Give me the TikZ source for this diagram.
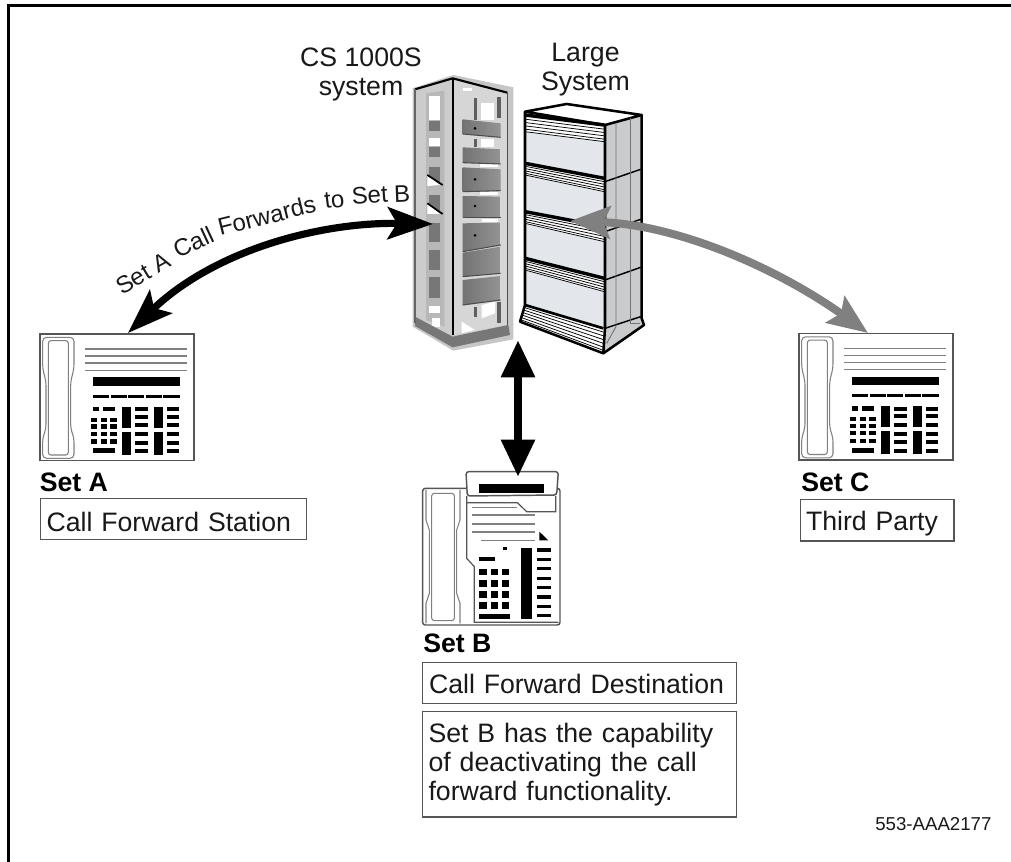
\documentclass[tikz,border=0pt]{standalone}
\usepackage{fontspec}
\setmainfont{Liberation Sans}
\usetikzlibrary{arrows.meta}
\definecolor{edgegray}{HTML}{555555}
\definecolor{phonegray}{HTML}{808080}
\definecolor{arrowgray}{HTML}{808080}
\definecolor{rackhalo}{HTML}{C6C6C6}
\definecolor{rackside}{HTML}{CCCCCC}
\definecolor{rackface}{HTML}{D6D6D6}
\definecolor{rackdark}{HTML}{777777}
\definecolor{panelface}{HTML}{E3E6EA}
\definecolor{panelside}{HTML}{C9CBCD}
\newcommand{\bodyfont}{\fontsize{20}{21.75}\selectfont}
\newcommand{\arcfont}{\fontsize{18}{20}\selectfont}
\newcommand{\fillrects}[1]{\foreach \xa/\ya/\xb/\yb in {#1} {\fill[black] (\xa,\ya) rectangle (\xb,\yb);}}
\newcommand{\setphone}[3]{%
\begin{scope}[shift={#2},x=.25pt,y=-.25pt]
 \node[phoneframe,minimum width=115.5pt,minimum height=95pt,anchor=north west] (#1) at (58,40) {};
 \draw[handset,rounded corners=3pt] (68,52)--(162,52)--(162,145)--(152,185)--(152,325)--(162,355)--(162,415)--(68,415)--(68,355)--(78,325)--(78,185)--(68,145)--cycle;
 \draw[handset,rounded corners=2pt] (85,62) rectangle (145,405);
 \foreach \yy in {87,108,129,151} {\draw[handset] (196,\yy)--(502,\yy);}
 \fillrects{218/172/480/197,218/224/268/234,272/224/320/234,325/224/372/234,377/224/425/234,430/224/480/234,220/260/236/274,250/260/286/274,306/260/332/324,306/336/332/404,402/260/428/324,402/336/428/404,218/385/285/400}
 \foreach \yy in {262,285,310,337,362,388} {\fill[black] (344,\yy) rectangle (384,\yy+12); \fill[black] (440,\yy) rectangle (478,\yy+12);}
 \foreach \yy in {293,313,335,358} {\fill[black] (212,\yy) rectangle (232,\yy+13); \fill[black] (243,\yy) rectangle (260,\yy+13); \fill[black] (270,\yy) rectangle (290,\yy+13);}
\end{scope}}
\tikzset{
 phoneframe/.style={draw=edgegray,line width=1.1pt,fill=white,inner sep=0pt},
 handset/.style={draw=phonegray,line width=.8pt},
 txt/.style={font=\bodyfont,inner sep=0pt,text=black!90},
 arcword/.style={font=\arcfont,inner sep=0pt,text=black!90,anchor=base west},
 boldtxt/.style={font=\bodyfont\bfseries,inner sep=0pt,text=black},
 labelbox/.style={draw=edgegray,line width=1.1pt,fill=white,font=\bodyfont,text=black!90,align=left,inner xsep=0pt,inner ysep=0pt,anchor=north west},
 cabline/.style={draw=black,line width=1.9pt,line join=round},
 stripe/.style={draw=black,line width=.55pt},
}
\begin{document}
\begin{tikzpicture}[x=.75pt,y=-.75pt]
\useasboundingbox (0,0) rectangle (1011,862);
\fill[white] (0,0) rectangle (1011,862);
\coordinate (frameTR) at (1011,5.5);
\coordinate (frameTL) at (8.5,5.5);
\coordinate (frameBL) at (8.5,862);
\draw[black,line width=2.4pt] (frameBL)--(frameTL)--(frameTR);

% ---------- CS 1000S rack
\begin{scope}[shift={(390,60)},x=.25pt,y=-.25pt]
 \fill[rackhalo] (68,85)--(190,45)--(370,82)--(370,838)--(190,872)--(68,800)--cycle;
 \fill[rackside] (78,90)--(188,58)--(188,825)--(78,790)--cycle;
 \fill[rackface] (190,58)--(352,100)--(352,795)--(190,825)--cycle;
 \fill[black!28] (108,100)--(163,92)--(163,800)--(108,780)--cycle;
 \foreach \xa/\ya/\xb/\yb/\cc in {118/108/150/180/white,116/182/150/212/rackdark,116/235/150/258/white,116/262/150/292/rackdark,116/320/150/372/rackdark,116/405/150/460/rackdark,116/490/150/545/rackdark,116/570/150/630/rackdark,116/652/150/715/rackdark,118/738/150/760/white,125/775/150/800/white}
  {\fill[\cc] (\xa,\ya) rectangle (\xb,\yb);}
 \fill[white] (112,345)--(150,375)--(112,378)--cycle;
 \fill[white] (112,430)--(150,462)--(112,462)--cycle;
 \draw[black,line width=1.3pt] (112,345)--(158,375);
 \draw[black,line width=1.3pt] (112,430)--(158,462);
 % right face windows and posts
 \fill[white] (272,130) rectangle (312,180);
 \fill[white] (272,238) rectangle (312,262);
 \fill[white] (270,312) rectangle (325,322);
 \fill[white] (270,396) rectangle (325,406);
 \fill[white] (275,476) rectangle (325,486);
 \fill[white] (275,735)--(315,725)--(315,760)--(275,775)--cycle;
 \fill[white] (215,785)--(255,810)--(215,820)--cycle;
 \fill[white] (218,85) rectangle (245,92);
 \fill[rackdark!80!black] (252,115) rectangle (262,180);
 \fill[rackdark!80!black] (320,110) rectangle (332,175);
 \fill[rackdark!80!black] (252,238) rectangle (262,262);
 \fill[rackdark!80!black] (252,740) rectangle (262,770);
 \fill[rackdark!80!black] (322,725) rectangle (332,790);
 \foreach \ptsa/\ptsb/\ptsc/\ptsd in {178/190/232/222,262/268/312/308,322/328/392/395,408/410/472/472,490/488/555/575,578/560/640/650,660/648/720/735}
  {\shade[left color=black!55,right color=black!42] (218,\ptsa)--(332,\ptsb)--(332,\ptsc)--(218,\ptsd)--cycle;
   \draw[black!70,line width=.8pt] (218,\ptsd)--(332,\ptsc);}
 \foreach \dy in {205,358,438,526} {\fill[black] (255,\dy) circle (1.1pt);}
 % base and frame
 \fill[rackdark] (75,770)--(188,830)--(355,795)--(360,825)--(188,862)--(75,798)--cycle;
 \draw[black,line width=1.6pt,line join=round] (75,88)--(188,55)--(352,98);
 \draw[black,line width=1.6pt] (188,55)--(188,825);
 \draw[black!70,line width=1pt] (352,98)--(352,795);
 \draw[black!60,line width=1.2pt] (75,88)--(75,790);
\end{scope}

% ---------- Large System cabinet
\begin{scope}[shift={(390,60)},x=.25pt,y=-.25pt]
 \fill[panelface] (405,165)--(645,210)--(640,805)--(405,735)--cycle;
 \fill[panelside] (645,195)--(755,165)--(755,775)--(762,795)--(640,880)--cycle;
 \draw[cabline,fill=white] (405,155)--(530,132)--(755,165)--(645,195)--cycle;
 \foreach \la/\lb/\ra/\rb in {165/215/195/245,310/345/355/395,455/490/500/545,595/630/655/695}{
  \fill[white] (405,\la)--(643,\ra)--(643,\rb)--(405,\lb)--cycle;
  \foreach \k in {0.25,0.45,0.65,0.85,1} {\draw[stripe] (405,{\la+\k*(\lb-\la)})--(643,{\ra+\k*(\rb-\ra)});}
  \draw[black,line width=2.6pt] (405,\la)--(643,\ra);
 }
 \fill[white] (405,735)--(640,805)--(640,880)--(390,785)--cycle;
 \foreach \k in {0.15,0.3,0.45,0.6,0.75,0.88} {\draw[stripe] ({405-15*\k},{735+50*\k})--(640,{805+75*\k});}
 \draw[black,line width=2pt] (405,735)--(640,805);
 \foreach \ya/\yb in {365/328,515/478,660/622,805/770} {\draw[black,line width=1.1pt] (645,\ya)--(752,\yb);}
 \draw[black!55,line width=.7pt] (678,190)--(678,800)--(650,850);
 \draw[black!55,line width=.7pt] (722,175)--(722,790)--(750,790);
 \draw[cabline] (405,155)--(405,735)--(390,785)--(640,880)--(762,795)--(755,775)--(755,165);
 \draw[cabline] (645,195)--(645,805)--(640,880);
\end{scope}

% ---------- sets
\setphone{phoneA}{(20,320)}{}
\setphone{phoneC}{(779,319.5)}{}

\begin{scope}[shift={(410,460)},x=.25pt,y=-.25pt]
 \draw[phoneframe,rounded corners=2pt] (38,85) rectangle (450,495);
 \node[inner sep=0pt,minimum size=0pt] (phoneB) at (244,290) {};
 \draw[handset] (48,90)--(48,180)--(58,210)--(58,400)--(48,430)--(48,490);
 \draw[handset] (150,90)--(150,180)--(140,210)--(140,400)--(150,430)--(150,490);
 \draw[handset,rounded corners=2pt] (65,100) rectangle (133,482);
 \draw[draw=edgegray,line width=.9pt] (170,108)--(170,295)--(193,320)--(193,487)--(445,487);
 \draw[draw=edgegray,line width=.9pt] (170,128)--(322,128)--(350,155)--(437,155)--(437,108);
 \draw[phoneframe,rounded corners=2pt] (168,35)--(445,35)--(440,105)--(172,108)--cycle;
 \foreach \ya/\xa/\xb in {142/185/322,165/185/375,192/185/375,216/185/375,241/212/375} {\draw[handset] (\xa,\ya)--(\xb,\ya);}
 \fill[black] (388,215)--(388,241)--(415,241)--cycle;
 \fillrects{208/72/402/100,280/260/292/270,208/292/255/304,208/462/300/476,334/265/365/477}
 \foreach \yy in {326,360,393,427} {\fill[black] (208,\yy) rectangle (230,\yy+20); \fill[black] (243,\yy) rectangle (265,\yy+20); \fill[black] (276,\yy) rectangle (298,\yy+20);}
 \foreach \yy in {265,293,321,350,378,406,434,462} {\fill[black] (380,\yy) rectangle (423,\yy+10);}
\end{scope}

% ---------- texts
\node[txt,anchor=base] (rackline1) at (361,67) {CS 1000S};
\node[txt,anchor=base] (rackline2) at (361,96) {system};
\node[txt,anchor=base] (cabline1) at (585.5,62) {Large};
\node[txt,anchor=base] (cabline2) at (585.5,91) {System};
\node[boldtxt,anchor=base west] (setAtitle) at (39.5,492) {Set A};
\node[boldtxt,anchor=base west] (setBtitle) at (423,653) {Set B};
\node[boldtxt,anchor=base west] (setCtitle) at (801,492) {Set C};
\node[labelbox,minimum width=199.5pt,minimum height=30.5pt,text width=190pt,text height=18pt,text depth=0pt] (boxA) at (39.5,498) {Call Forward Station};
\node[labelbox,minimum width=235.5pt,minimum height=30.5pt,text width=226pt,text height=16pt,text depth=0pt] (boxB) at (422,662) {Call Forward Destination};
\node[labelbox,minimum width=115pt,minimum height=31pt,text width=107pt,text height=15pt,text depth=0pt] (boxC) at (800,499) {Third Party};
\node[labelbox,minimum width=235.5pt,minimum height=79pt,text width=226pt] (boxD) at (421.5,711) {Set B has the capability\\of deactivating the call\\forward functionality.};
\node[anchor=base west,font=\fontsize{14}{16}\selectfont,inner sep=0pt,text=black!90] (partno) at (875,830) {553-AAA2177};

% ---------- arc label, word by word along the curve
\node[arcword,rotate=31] (w1) at (122,296) {Set};
\node[arcword,rotate=29] (w2) at (158,274) {A};
\node[arcword,rotate=25] (w3) at (178,259) {Call};
\node[arcword,rotate=14] (w4) at (220,236) {Forwards};
\node[arcword,rotate=7] (w5) at (325,209) {to};
\node[arcword,rotate=4] (w6) at (352,205) {Set};
\node[arcword,rotate=2] (w7) at (394,203) {B};

% ---------- connectors
\coordinate (leftTipA) at (128,333);
\coordinate (leftTipRack) at (433,224);
\coordinate (grayTipCab) at (570,221);
\coordinate (grayTipC) at (868,333);
\coordinate (vertTop) at (518,340);
\coordinate (vertBottom) at (518,477);

\draw[black,line width=5.4pt,{Stealth[length=34pt,width=24pt,inset=7pt]}-{Stealth[length=34pt,width=24pt,inset=7pt]}]
  (leftTipA) .. controls (215,250) and (320,222) .. (leftTipRack);
\draw[arrowgray,line width=6pt,{Stealth[length=30pt,width=24pt,inset=5pt]}-{Stealth[length=30pt,width=24pt,inset=5pt]}]
  (grayTipCab) .. controls (680,225) and (780,270) .. (grayTipC);
\draw[black,line width=6.5pt,{Stealth[length=28pt,width=24pt,inset=0pt]}-{Stealth[length=28pt,width=24pt,inset=0pt]}]
  (vertTop) -- (vertBottom);
\end{tikzpicture}
\end{document}
